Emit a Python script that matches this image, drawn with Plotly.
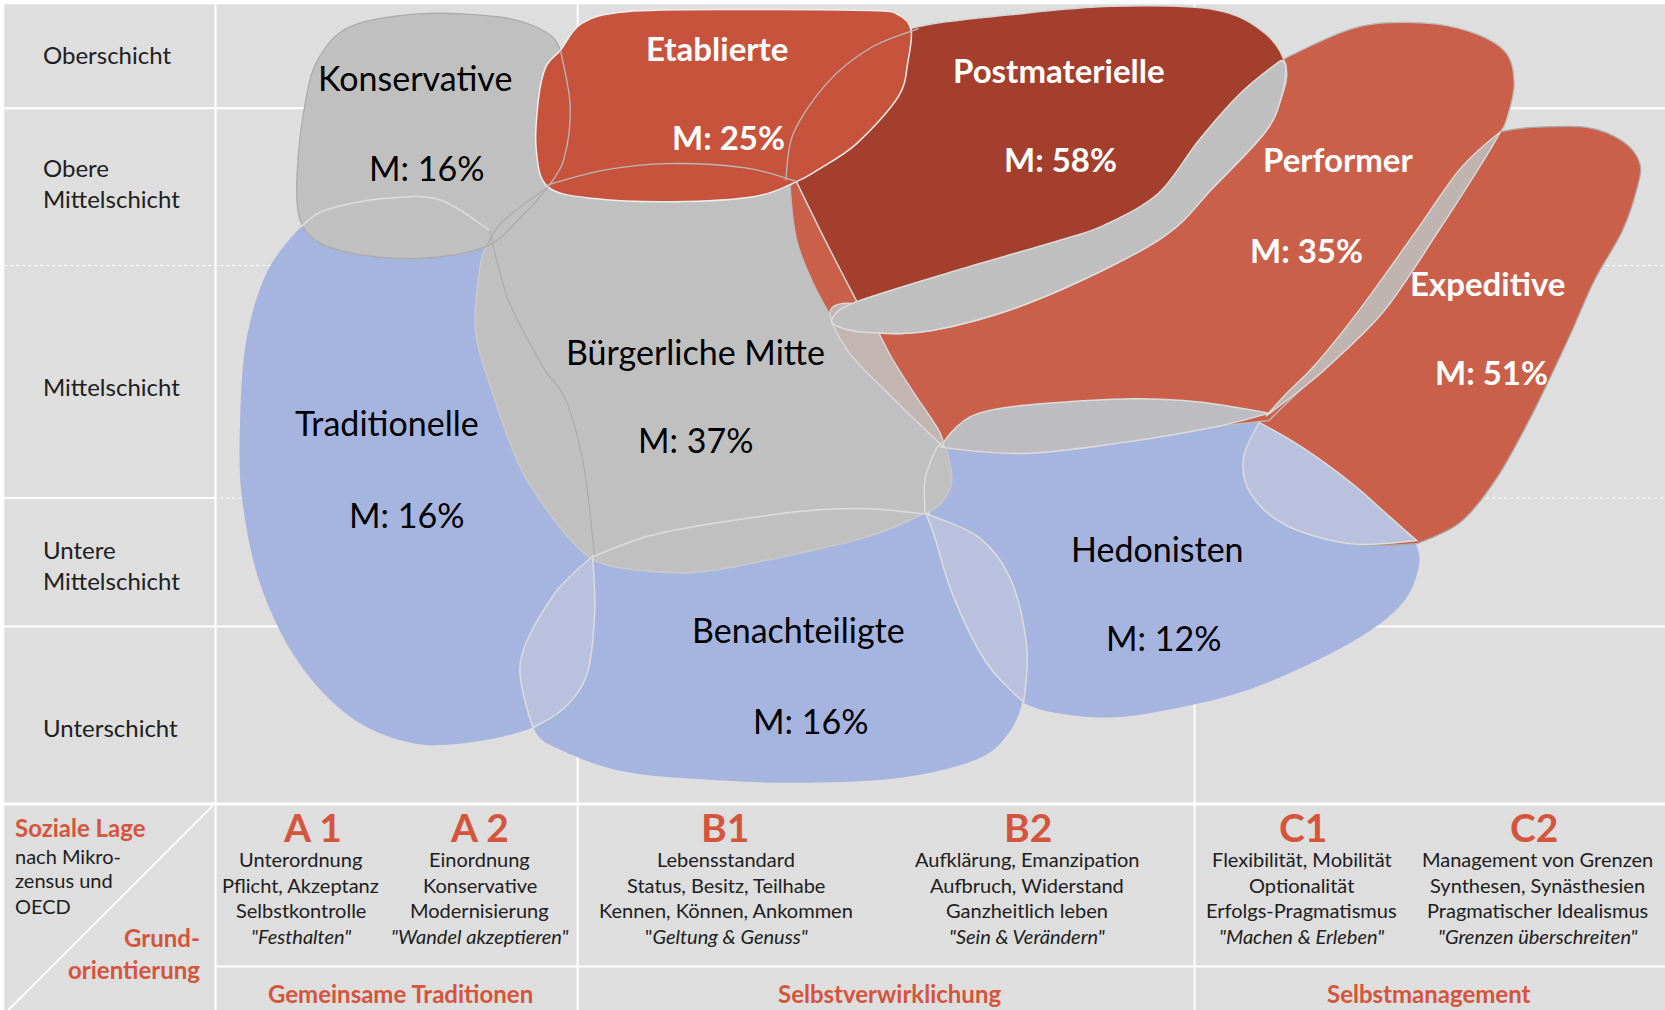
import plotly.graph_objects as go

# ---------------- reference frame (chart units) ----------------
X_MAX, Y_MAX = 1568, 951

# ---------------- colours ----------------
BG = "#DEDEDE"
BLUE = "#A6B4E0"
GREY = "#C0C0C0"
RED = "#CB604A"
RED_ETAB = "#C8533C"
RED_DARK = "#A43F2D"
ACCENT = "#D4553C"
LIGHT_EDGE = "#DCDCDC"
DARK_EDGE = "#ABABAB"

# ---------------- grid ----------------
ROW_LABELS = ["Oberschicht", "Obere<br>Mittelschicht", "Mittelschicht", "Untere<br>Mittelschicht", "Unterschicht"]
ROW_LABEL_Y = [51, 172, 364, 532, 685]
ROW_LINES_SOLID = [102, 590, 757]
ROW_LINES_DOTTED = [250, 469]
COL_LINES = [203, 544, 1125]
LABEL_COL_RIGHT = 203
FOOTER_SPLIT = 910

# ---------------- milieus ----------------
MILIEUS = ["Konservative", "Etablierte", "Postmaterielle", "Performer", "Expeditive",
           "Bürgerliche Mitte", "Traditionelle", "Hedonisten", "Benachteiligte"]
SHARES = [16, 25, 58, 35, 51, 37, 16, 12, 16]
NAME_X = [391, 675, 997, 1260, 1401, 655, 364, 1090, 752]
NAME_Y = [73, 45, 66, 150, 266, 331, 398, 516, 593]
SHARE_X = [402, 686, 999, 1230, 1405, 655, 383, 1096, 763]
SHARE_Y = [158, 129, 150, 235, 350, 414, 484, 600, 678]
LABEL_WHITE = [False, True, True, True, True, False, False, False, False]

# blob outlines (control points; third value 1 = sharp corner)
TRADITIONELLE = [(283, 214, 1), (306, 198), (361, 187), (414, 188), (461, 217, 1), (479, 283), (511, 345),
                 (533, 377), (550, 440), (560, 524), (560, 577), (553, 634), (532, 666), (502, 685),
                 (450, 698), (390, 700), (330, 675), (280, 622), (245, 550), (228, 470), (226, 400),
                 (232, 320), (252, 255)]
BENACHTEILIGTE = [(558, 524, 1), (610, 505), (664, 494), (760, 481), (820, 479), (870, 484), (922, 506),
                  (952, 546), (967, 609), (964, 656), (950, 690), (920, 715), (850, 732), (760, 737),
                  (680, 735), (590, 727), (530, 707), (502, 685), (490, 624), (505, 585), (528, 548)]
HEDONISTEN = [(886, 417, 1), (922, 389), (1025, 377), (1114, 377), (1192, 389, 1), (1226, 421),
              (1273, 455), (1307, 485), (1331, 508), (1336, 534), (1318, 571), (1265, 609), (1174, 650),
              (1085, 671), (1025, 675), (964, 662), (929, 624), (898, 562), (880, 499), (871, 452)]
BUERGERLICHE = [(516, 174, 1), (570, 160), (629, 154), (702, 158), (750, 171, 1), (778, 228), (807, 284),
                (841, 339), (884, 405, 1), (893, 430), (896, 455), (885, 475), (871, 483, 1), (815, 506),
                (724, 527), (652, 539), (586, 535), (558, 527, 1), (530, 500), (490, 440), (461, 361),
                (448, 314), (450, 267), (458, 232), (485, 195)]
KONSERVATIVE = [(396, 13), (470, 16), (510, 28), (528, 48), (537, 100), (531, 150), (516, 176),
                (490, 205), (458, 232), (400, 243), (340, 240), (300, 228), (282, 205), (280, 160),
                (288, 94), (300, 55), (330, 25)]
EXPEDITIVE = [(1413, 124, 1), (1443, 120), (1494, 120), (1528, 133), (1544, 153), (1542, 176),
              (1528, 217), (1501, 265), (1477, 319), (1443, 390), (1409, 451), (1375, 492),
              (1334, 512, 1), (1273, 512), (1212, 495), (1178, 465), (1171, 431), (1186, 398, 1),
              (1212, 370), (1239, 343), (1280, 292), (1334, 217), (1375, 159)]
PERFORMER = [(744, 175, 1), (800, 140), (950, 95), (1100, 70), (1206, 57, 1), (1273, 27), (1324, 21),
             (1375, 27), (1416, 47), (1426, 78), (1419, 112), (1413, 124, 1), (1396, 153), (1355, 217),
             (1304, 292), (1253, 343), (1226, 366), (1195, 396, 1), (1144, 402), (1055, 417),
             (964, 427), (889, 422, 1), (875, 408), (836, 370), (798, 330), (784, 301), (765, 265),
             (750, 225)]
POSTMATERIELLE = [(865, 25), (951, 14), (1047, 6), (1143, 9), (1191, 31), (1211, 63), (1206, 94),
                  (1191, 125), (1143, 176), (1091, 226), (975, 283), (879, 311), (817, 313), (789, 306),
                  (786, 297), (807, 284, 1), (778, 228), (750, 171, 1), (742, 150), (747, 126),
                  (779, 78), (820, 45)]
ETABLIERTE = [(528, 47), (548, 22), (590, 11), (700, 9), (820, 10), (846, 14), (858, 28), (855, 58),
              (846, 91), (807, 135), (770, 160), (750, 171), (711, 185), (634, 190), (560, 187),
              (516, 176), (505, 141), (507, 94), (514, 63)]

# overlap lenses
LENS_TRAD_BEN = [(558, 524, 1), (560, 577), (553, 634), (532, 666), (502, 685, 1), (490, 624), (520, 562)]
LENS_BEN_HED = [(872, 484, 1), (922, 506), (952, 546), (967, 609), (964, 661, 1), (929, 624), (898, 562), (880, 505)]
LENS_HED_EXP = [(1186, 398, 1), (1226, 421), (1273, 455), (1307, 485), (1334, 509, 1), (1273, 512),
                (1212, 495), (1178, 465), (1171, 431)]
LENS_HED_PERF = [(886, 421, 1), (922, 389), (1025, 377), (1114, 377), (1195, 389, 1), (1144, 402),
                 (1055, 417), (964, 427)]
LENS_PERF_EXP = [(1413, 124, 1), (1396, 153), (1355, 217), (1304, 292), (1253, 343), (1226, 366),
                 (1192, 392, 1), (1212, 370), (1239, 343), (1280, 292), (1334, 217), (1375, 159)]
LENS_BUER_PERF = [(782, 292), (798, 330), (836, 370), (875, 408), (889, 421, 1), (884, 405), (862, 372),
                  (841, 339), (812, 290)]
LENS_POST_PERF = [(1206, 57, 1), (1168, 88), (1129, 132), (1091, 182), (1040, 212), (999, 226), (903, 254),
                  (807, 284), (785, 298), (788, 307), (817, 313), (879, 311), (975, 283), (1091, 226),
                  (1143, 176), (1191, 125), (1206, 94), (1211, 63)]

# hidden boundaries that remain visible inside overlaps
EDGE_TRAD_TOP = [(283, 214), (306, 198), (361, 187), (414, 188), (461, 217)]
EDGE_TRAD_RIGHT = [(461, 217), (479, 283), (511, 345), (533, 377), (550, 440), (560, 524)]
EDGE_BUER_TOPLEFT = [(516, 176), (490, 195), (470, 212), (458, 232)]
EDGE_BEN_TOP = [(558, 524), (610, 505), (664, 494), (760, 481), (820, 479), (870, 484)]
EDGE_HED_LEFT = [(871, 483), (871, 452), (880, 426), (886, 417)]
EDGE_KONS_RIGHT = [(528, 48), (537, 100), (531, 150), (516, 176)]
EDGE_POST_LEFT = [(865, 27), (820, 45), (779, 78), (747, 126), (740, 170)]
EDGE_BUER_TOP = [(516, 174), (570, 160), (629, 154), (702, 158), (750, 171)]

# ---------------- footer ----------------
COL_CODES = ["A 1", "A 2", "B1", "B2", "C1", "C2"]
COL_X = [294, 452, 683, 968, 1227, 1445]
COL_TEXT_X = [283, 452, 684, 967, 1226, 1448]
COL_TEXT = [
    ["Unterordnung", "Pflicht, Akzeptanz", "Selbstkontrolle", "<i>\"Festhalten\"</i>"],
    ["Einordnung", "Konservative", "Modernisierung", "<i>\"Wandel akzeptieren\"</i>"],
    ["Lebensstandard", "Status, Besitz, Teilhabe", "Kennen, Können, Ankommen", "\"<i>Geltung &amp; Genuss\"</i>"],
    ["Aufklärung, Emanzipation", "Aufbruch, Widerstand", "Ganzheitlich leben", "<i>\"Sein &amp; Verändern\"</i>"],
    ["Flexibilität, Mobilität", "Optionalität", "Erfolgs-Pragmatismus", "<i>\"Machen &amp; Erleben\"</i>"],
    ["Management von Grenzen", "Synthesen, Synästhesien", "Pragmatischer Idealismus", "<i>\"Grenzen überschreiten\"</i>"],
]
COL_TEXT_Y = [809, 833, 857, 881]
GROUPS = ["Gemeinsame Traditionen", "Selbstverwirklichung", "Selbstmanagement"]
GROUP_X = [377, 838, 1346]
GROUP_Y = 935

FONT = "Lato"


def smooth_path(pts, closed=True):
    """Catmull-Rom spline through control points, as an SVG path in data units."""
    n = len(pts)
    P = [(p[0], p[1]) for p in pts]
    corner = [len(p) > 2 and p[2] == 1 for p in pts]

    def at(i):
        if closed:
            return P[i % n]
        return P[min(max(i, 0), n - 1)]

    tang = []
    for i in range(n):
        if corner[i]:
            tang.append((0.0, 0.0))
        else:
            a, b = at(i - 1), at(i + 1)
            tang.append(((b[0] - a[0]) / 6.0, (b[1] - a[1]) / 6.0))
    d = f"M{P[0][0]},{P[0][1]}"
    segs = n if closed else n - 1
    for i in range(segs):
        j = (i + 1) % n
        p1, p2 = P[i], P[j]
        c1 = (p1[0] + tang[i][0], p1[1] + tang[i][1])
        c2 = (p2[0] - tang[j][0], p2[1] - tang[j][1])
        d += f" C{c1[0]:.2f},{c1[1]:.2f} {c2[0]:.2f},{c2[1]:.2f} {p2[0]},{p2[1]}"
    if closed:
        d += " Z"
    return d


shapes = []

# background panel
shapes.append(dict(type="rect", xref="x", yref="y", x0=4, y0=4, x1=X_MAX, y1=Y_MAX,
                   fillcolor=BG, line=dict(width=0)))
# grid lines
for yv in ROW_LINES_SOLID:
    shapes.append(dict(type="line", xref="x", yref="y", x0=4, x1=X_MAX, y0=yv, y1=yv,
                       line=dict(color="white", width=3 if yv == 757 else 2)))
for yv in ROW_LINES_DOTTED:
    shapes.append(dict(type="line", xref="x", yref="y", x0=4, x1=X_MAX, y0=yv, y1=yv,
                       line=dict(color="white", width=1, dash="dot")))
shapes.append(dict(type="line", xref="x", yref="y", x0=4, x1=LABEL_COL_RIGHT, y0=469, y1=469,
                   line=dict(color="white", width=2)))
for xv in COL_LINES:
    shapes.append(dict(type="line", xref="x", yref="y", x0=xv, x1=xv, y0=4, y1=Y_MAX,
                       line=dict(color="white", width=2)))
shapes.append(dict(type="line", xref="x", yref="y", x0=LABEL_COL_RIGHT, x1=X_MAX, y0=FOOTER_SPLIT,
                   y1=FOOTER_SPLIT, line=dict(color="white", width=2)))
shapes.append(dict(type="line", xref="x", yref="y", x0=200, x1=8, y0=759, y1=951,
                   line=dict(color="white", width=2)))


def add_closed(pts, fill, line_color, width):
    shapes.append(dict(type="path", xref="x", yref="y", path=smooth_path(pts, True),
                       fillcolor=fill,
                       line=dict(color=line_color, width=width)))


def add_open(pts, color, width=1.5):
    shapes.append(dict(type="path", xref="x", yref="y", path=smooth_path(pts, False),
                       fillcolor="rgba(0,0,0,0)", line=dict(color=color, width=width)))


# blobs in painting order
add_closed(TRADITIONELLE, BLUE, "rgba(0,0,0,0)", 0)
add_closed(BENACHTEILIGTE, BLUE, "rgba(0,0,0,0)", 0)
add_closed(HEDONISTEN, BLUE, "rgba(0,0,0,0)", 0)
add_closed(BUERGERLICHE, GREY, "#C9C9C9", 1.5)
add_closed(KONSERVATIVE, GREY, DARK_EDGE, 1.3)
add_closed(EXPEDITIVE, RED, DARK_EDGE, 1.3)
add_closed(PERFORMER, RED, "#BDBDBD", 1.3)
add_closed(POSTMATERIELLE, RED_DARK, "#D6D6D6", 1.5)
add_closed(ETABLIERTE, RED_ETAB, "#EEEEEE", 1.5)

# overlaps
add_closed(LENS_TRAD_BEN, "#B9C1DF", LIGHT_EDGE, 1.5)
add_closed(LENS_BEN_HED, "#B9C1DF", LIGHT_EDGE, 1.5)
add_closed(LENS_HED_EXP, "#B9C1DF", LIGHT_EDGE, 1.5)
add_closed(LENS_HED_PERF, "#BCBCC1", LIGHT_EDGE, 1.5)
add_closed(LENS_PERF_EXP, "#BFB4B0", LIGHT_EDGE, 1.3)
add_closed(LENS_BUER_PERF, "#C2B5B2", LIGHT_EDGE, 1.3)
add_closed(LENS_POST_PERF, "#BFBFBF", LIGHT_EDGE, 1.5)

# visible hidden edges
add_open(EDGE_TRAD_TOP, LIGHT_EDGE)
add_open(EDGE_TRAD_RIGHT, DARK_EDGE, 1.2)
add_open(EDGE_BUER_TOPLEFT, DARK_EDGE, 1.2)
add_open(EDGE_BEN_TOP, LIGHT_EDGE)
add_open(EDGE_HED_LEFT, LIGHT_EDGE)
add_open(EDGE_KONS_RIGHT, "#B9B9B9", 1.3)
add_open(EDGE_POST_LEFT, "#B9B9B9", 1.3)
add_open(EDGE_BUER_TOP, "#B9B9B9", 1.3)

annotations = []


def txt(x, y, text, size, color, xanchor="center", align="center"):
    annotations.append(dict(x=x, y=y, xref="x", yref="y", text=text, showarrow=False,
                            xanchor=xanchor, yanchor="middle", align=align,
                            font=dict(family=FONT, size=size, color=color)))


# row labels
for lab, yv in zip(ROW_LABELS, ROW_LABEL_Y):
    txt(39, yv, lab, 24, "#202020", xanchor="left", align="left")

# milieu labels
for name, share, nx, ny, sx, sy, white in zip(MILIEUS, SHARES, NAME_X, NAME_Y, SHARE_X, SHARE_Y, LABEL_WHITE):
    if white:
        txt(nx, ny, f"<b>{name}</b>", 33, "white")
        txt(sx, sy, f"<b>M: {share}%</b>", 33, "white")
    else:
        txt(nx, ny, name, 34, "black")
        txt(sx, sy, f"M: {share}%", 34, "black")

# footer: left cell
txt(12, 779, "<b>Soziale Lage</b>", 24, ACCENT, xanchor="left", align="left")
for yv, line in zip([806, 829, 853], ["nach Mikro-", "zensus und", "OECD"]):
    txt(12, yv, line, 20, "#202020", xanchor="left", align="left")
txt(190, 883, "<b>Grund-</b>", 24, ACCENT, xanchor="right", align="right")
txt(190, 913, "<b>orientierung</b>", 24, ACCENT, xanchor="right", align="right")

# footer: columns
for code, cx, tx, lines in zip(COL_CODES, COL_X, COL_TEXT_X, COL_TEXT):
    txt(cx, 779, f"<b>{code}</b>", 39, ACCENT)
    for yv, line in zip(COL_TEXT_Y, lines):
        txt(tx, yv, line, 20, "#202020")

for g, gx in zip(GROUPS, GROUP_X):
    txt(gx, GROUP_Y, f"<b>{g}</b>", 24, ACCENT)

fig = go.Figure()
fig.add_trace(go.Scatter(x=[0, X_MAX], y=[0, Y_MAX], mode="markers",
                         marker=dict(opacity=0), hoverinfo="skip", showlegend=False))
fig.update_layout(
    width=1665, height=1010,
    margin=dict(l=0, r=0, t=0, b=0),
    paper_bgcolor="white", plot_bgcolor="white",
    xaxis=dict(range=[0, X_MAX], visible=False, fixedrange=True),
    yaxis=dict(range=[Y_MAX, 0], visible=False, fixedrange=True),
    shapes=shapes, annotations=annotations, showlegend=False,
)
fig.write_html("out.html", config={"displayModeBar": False},
               post_script="document.body.style.margin='0';document.body.style.overflow='hidden';")
